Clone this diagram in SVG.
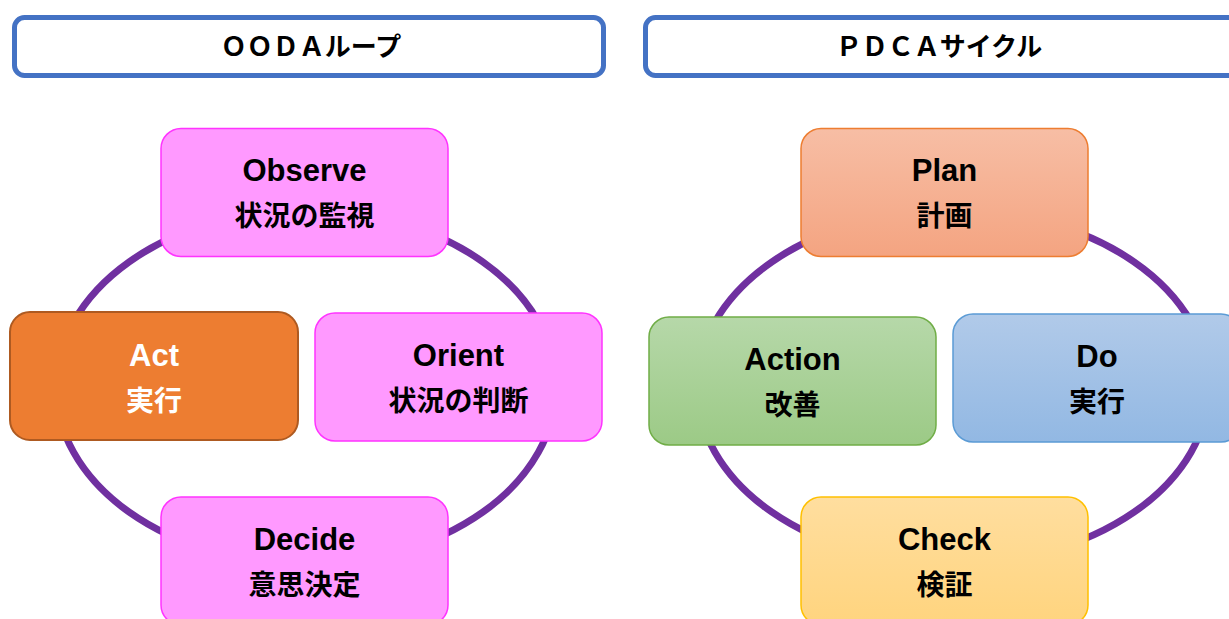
<svg xmlns="http://www.w3.org/2000/svg" width="1229" height="619" viewBox="0 0 1229 619">
<style>
.title{fill:#fff;stroke:#4472C4;stroke-width:5}
.ttext{font-family:"Noto Sans CJK JP","Noto Sans",sans-serif;font-size:26px;font-weight:bold;fill:#000;text-anchor:middle}
.loop{fill:none;stroke:#7030A0;stroke-width:7}
.pink{fill:#FF99FF;stroke:#FF33FF;stroke-width:1.5}
.lat{font-family:"Liberation Sans",Arial,sans-serif;font-size:31px;font-weight:bold;text-anchor:middle;fill:#000}
.jp{font-family:"Noto Sans CJK JP",sans-serif;font-size:28px;font-weight:bold;text-anchor:middle;fill:#000}
.white{fill:#fff}
</style>
<defs>
<linearGradient id="gPlan" x1="0" y1="0" x2="0" y2="1"><stop offset="0" stop-color="#F7BEA5"/><stop offset="1" stop-color="#F4A481"/></linearGradient>
<linearGradient id="gAction" x1="0" y1="0" x2="0" y2="1"><stop offset="0" stop-color="#B6D8A9"/><stop offset="1" stop-color="#9CCA86"/></linearGradient>
<linearGradient id="gDo" x1="0" y1="0" x2="0" y2="1"><stop offset="0" stop-color="#B1CAE9"/><stop offset="1" stop-color="#92B8E3"/></linearGradient>
<linearGradient id="gCheck" x1="0" y1="0" x2="0" y2="1"><stop offset="0" stop-color="#FFDE9F"/><stop offset="1" stop-color="#FFD47E"/></linearGradient>
</defs>

<g id="title-ooda">
<rect class="title" x="14.5" y="17.5" width="589" height="58" rx="10"/>
<text class="ttext" x="311" y="56">ＯＯＤＡループ</text>
</g>
<g id="title-pdca">
<rect class="title" x="645.5" y="17.5" width="610" height="58" rx="10"/>
<text class="ttext" x="939" y="56">ＰＤＣＡサイクル</text>
</g>

<g id="connectors">
<ellipse class="loop" cx="306" cy="387" rx="250" ry="177"/>
<ellipse class="loop" cx="953" cy="387" rx="256" ry="177"/>
</g>

<g id="observe">
<rect class="pink" x="161" y="128.5" width="287" height="128" rx="20"/>
<text class="lat" x="304.5" y="181">Observe</text>
<text class="jp" x="304.5" y="226">状況の監視</text>
</g>
<g id="act">
<rect x="10" y="312" width="288" height="128" rx="20" fill="#ED7D31" stroke="#AE5A21" stroke-width="2"/>
<text class="lat white" x="154" y="366">Act</text>
<text class="jp white" x="154" y="411">実行</text>
</g>
<g id="orient">
<rect class="pink" x="315" y="313" width="287" height="128" rx="20"/>
<text class="lat" x="458.5" y="366">Orient</text>
<text class="jp" x="458.5" y="411">状況の判断</text>
</g>
<g id="decide">
<rect class="pink" x="161" y="497" width="287" height="128" rx="20"/>
<text class="lat" x="304.5" y="550">Decide</text>
<text class="jp" x="304.5" y="595">意思決定</text>
</g>

<g id="plan">
<rect x="801" y="128.5" width="287" height="128" rx="20" fill="url(#gPlan)" stroke="#ED7D31" stroke-width="1.5"/>
<text class="lat" x="944.5" y="181">Plan</text>
<text class="jp" x="944.5" y="226">計画</text>
</g>
<g id="action">
<rect x="649" y="317" width="287" height="128" rx="20" fill="url(#gAction)" stroke="#70AD47" stroke-width="1.5"/>
<text class="lat" x="792.5" y="370">Action</text>
<text class="jp" x="792.5" y="415">改善</text>
</g>
<g id="do">
<rect x="953" y="314" width="288" height="128" rx="20" fill="url(#gDo)" stroke="#5B9BD5" stroke-width="1.5"/>
<text class="lat" x="1097" y="367">Do</text>
<text class="jp" x="1097" y="412">実行</text>
</g>
<g id="check">
<rect x="801" y="497" width="287" height="128" rx="20" fill="url(#gCheck)" stroke="#FFC000" stroke-width="1.5"/>
<text class="lat" x="944.5" y="550">Check</text>
<text class="jp" x="944.5" y="595">検証</text>
</g>
</svg>
